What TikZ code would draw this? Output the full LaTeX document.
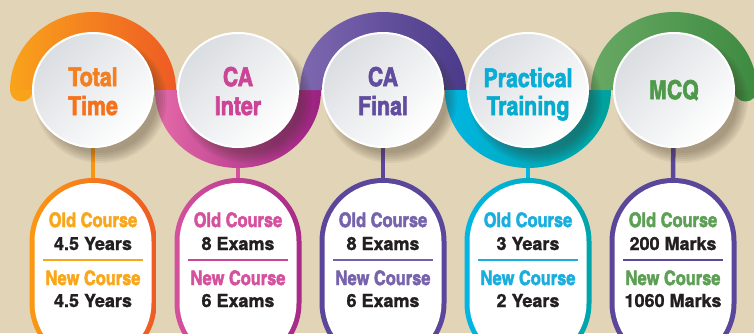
\documentclass[tikz,border=0pt]{standalone}
\usepackage{fontspec}
\setmainfont{TeX Gyre Heros}
\newfontfamily\cnfont{texgyreheroscn}[Extension=.otf,UprightFont=*-bold,UprightFeatures={FakeBold=2.2}]
\newfontfamily\valfont{TeX Gyre Heros Bold}[FakeBold=1.2]
\usetikzlibrary{shapes.geometric}
\definecolor{bg}{HTML}{E2D4B7}
\definecolor{discgrey}{HTML}{DADDE1}
\definecolor{ink}{HTML}{231F20}
\definecolor{shd}{HTML}{3A3020}
\definecolor{aAl}{HTML}{F9A31B}\definecolor{aAr}{HTML}{EE5B24}
\definecolor{aBl}{HTML}{E46AA8}\definecolor{aBr}{HTML}{9B2181}
\definecolor{aCl}{HTML}{7E68B0}\definecolor{aCr}{HTML}{4A3A8A}
\definecolor{aDl}{HTML}{00B6E3}\definecolor{aDr}{HTML}{00A09C}
\definecolor{aEl}{HTML}{68A964}\definecolor{aEr}{HTML}{3E8A41}
\definecolor{tA}{HTML}{F47F20}\definecolor{tB}{HTML}{CC4496}
\definecolor{tC}{HTML}{614C9E}\definecolor{tD}{HTML}{0AADD5}
\definecolor{tE}{HTML}{4F9A4A}
\definecolor{lA}{HTML}{FAA61A}\definecolor{lB}{HTML}{D5519E}
\definecolor{lC}{HTML}{7763AC}\definecolor{lD}{HTML}{1AAEDF}
\definecolor{lE}{HTML}{5C9F55}
\definecolor{purp}{HTML}{5A479B}
\tikzset{
  disc/.style={ellipse, minimum width=120pt, minimum height=114pt, inner sep=0pt,
    draw=white, line width=2pt, top color=discgrey, bottom color=white, shading angle=45},
  head/.style={font=\cnfont\fontsize{26}{26}\selectfont, inner sep=0pt, anchor=base},
  pillout/.style={rectangle, rounded corners=63.4pt, minimum width=127pt,
    minimum height=188.5pt, inner sep=0pt, outer sep=0pt},
  pillin/.style={rectangle, rounded corners=58.4pt, minimum width=117pt,
    minimum height=178.5pt, inner sep=0pt, outer sep=0pt, fill=white},
  lab/.style={font=\cnfont\fontsize{20}{20}\selectfont, inner sep=0pt, anchor=base},
  val/.style={font=\valfont\fontsize{18}{18}\selectfont, text=ink, inner sep=0pt, anchor=base},
  divider/.style={line width=1.5pt},
  conn/.style={line width=4.5pt}
}
\begin{document}
\begin{tikzpicture}[x=1pt,y=1pt]
\useasboundingbox (0,0) rectangle (754,333);
\fill[bg] (0,0) rectangle (754,333);

% ---------- bottom boxes ----------
\node[pillout, left color=aAl!70!orange, right color=aAr] (b1) at (93,60.75) {};
\node[pillin] (b1i) at (93,60.75) {};
\node[pillout, left color=lB, right color=aBr!80!lB] (b2) at (238,60.75) {};
\node[pillin] (b2i) at (238,60.75) {};
\node[pillout, fill=purp] (b3) at (383,60.75) {};
\node[pillin] (b3i) at (383,60.75) {};
\node[pillout, left color=aDl, right color=aDr!80!aDl] (b4) at (528,60.75) {};
\node[pillin] (b4i) at (528,60.75) {};
\node[pillout, fill=purp] (b5) at (673,60.75) {};
\node[pillin] (b5i) at (673,60.75) {};

% box texts
\node[lab, text=lA] (o1) at (93,106) {Old Course};
\node[val] (v1) at (93,83) {4.5 Years};
\draw[divider, lA] ([xshift=-50pt]b1i.center |- 0,73) coordinate (d1a) -- ([xshift=50pt]b1i.center |- 0,73) coordinate (d1b);
\node[lab, text=lA] (n1) at (93,48) {New Course};
\node[val] (w1) at (93,26) {4.5 Years};

\node[lab, text=lB] (o2) at (238,106) {Old Course};
\node[val] (v2) at (238,83) {8 Exams};
\draw[divider, tB] ([xshift=-50pt]b2i.center |- 0,73) coordinate (d2a) -- ([xshift=50pt]b2i.center |- 0,73) coordinate (d2b);
\node[lab, text=lB] (n2) at (238,48) {New Course};
\node[val] (w2) at (238,26) {6 Exams};

\node[lab, text=lC] (o3) at (383,106) {Old Course};
\node[val] (v3) at (383,83) {8 Exams};
\draw[divider, lC!85!purp] ([xshift=-50pt]b3i.center |- 0,73) coordinate (d3a) -- ([xshift=50pt]b3i.center |- 0,73) coordinate (d3b);
\node[lab, text=lC] (n3) at (383,48) {New Course};
\node[val] (w3) at (383,26) {6 Exams};

\node[lab, text=lD] (o4) at (528,106) {Old Course};
\node[val] (v4) at (528,83) {3 Years};
\draw[divider, lD] ([xshift=-50pt]b4i.center |- 0,73) coordinate (d4a) -- ([xshift=50pt]b4i.center |- 0,73) coordinate (d4b);
\node[lab, text=lD] (n4) at (528,48) {New Course};
\node[val] (w4) at (528,26) {2 Years};

\node[lab, text=lE] (o5) at (673,106) {Old Course};
\node[val] (v5) at (673,83) {200 Marks};
\draw[divider, purp] ([xshift=-50pt]b5i.center |- 0,73) coordinate (d5a) -- ([xshift=50pt]b5i.center |- 0,73) coordinate (d5b);
\node[lab, text=lE] (n5) at (673,48) {New Course};
\node[val] (w5) at (673,26) {1060 Marks};

% ---------- circle centres and connectors ----------
\coordinate (k1) at (93,243);
\coordinate (k2) at (238,243);
\coordinate (k3) at (383,243);
\coordinate (k4) at (528,243);
\coordinate (k5) at (674,243);
\draw[conn, aAl!60!orange] (k1) -- (b1.north);
\draw[conn, lB] (k2) -- (b2.north);
\draw[conn, purp] (k3) -- (b3.north);
\draw[conn, aDl] (k4) -- (b4.north);
\draw[conn, purp] (k5) -- (b5.north);

% ---------- bands ----------
\shade[left color=aAl, right color=aAr] (10,243) arc[start angle=180,end angle=0,x radius=83,y radius=78]
  -- (153,243) arc[start angle=0,end angle=180,x radius=60,y radius=56] -- cycle;
\fill[aAl] (10,243) arc[start angle=180,end angle=360,radius=11.5] -- cycle;
\shade[left color=aBl, right color=aBr] (155,243) arc[start angle=180,end angle=360,x radius=83,y radius=78]
  -- (298,243) arc[start angle=0,end angle=-180,x radius=60,y radius=56] -- cycle;
\shade[left color=aCl, right color=aCr] (300,243) arc[start angle=180,end angle=0,x radius=83,y radius=78]
  -- (443,243) arc[start angle=0,end angle=180,x radius=60,y radius=56] -- cycle;
\shade[left color=aDl, right color=aDr] (445,243) arc[start angle=180,end angle=360,x radius=83,y radius=78]
  -- (588,243) arc[start angle=0,end angle=-180,x radius=60,y radius=56] -- cycle;
\shade[left color=aEl, right color=aEr] (591,243) arc[start angle=180,end angle=0,x radius=83,y radius=78]
  -- (734,243) arc[start angle=0,end angle=180,x radius=60,y radius=56] -- cycle;
\fill[aEr] (734,243) arc[start angle=180,end angle=360,radius=11.5] -- cycle;

% ---------- shadows ----------
\foreach \k in {k1,k2,k3,k4,k5}{
  \foreach \r in {0,2,4,6,8,10}{
    \fill[shd, opacity=0.065] ([shift={(8,-10)}]\k) ellipse[x radius=56+\r, y radius=53+\r];
  }
}

% ---------- discs ----------
\node[disc] (c1) at (k1) {};
\node[disc] (c2) at (k2) {};
\node[disc] (c3) at (k3) {};
\node[disc] (c4) at (k4) {};
\node[disc] (c5) at (k5) {};

\node[head, text=tA] (h1a) at (93,247) {Total};
\node[head, text=tA!90!red] (h1b) at (93,218) {Time};
\node[head, text=tB] (h2a) at (238,247) {CA};
\node[head, text=tB] (h2b) at (238,218) {Inter};
\node[head, text=tC] (h3a) at (383,247) {CA};
\node[head, text=tC] (h3b) at (383,218) {Final};
\node[head, text=tD] (h4a) at (528,246) {Practical};
\node[head, text=tD!85!aDr] (h4b) at (528,218) {Training};
\node[head, text=tE] (h5) at (674,234) {MCQ};
\end{tikzpicture}
\end{document}
